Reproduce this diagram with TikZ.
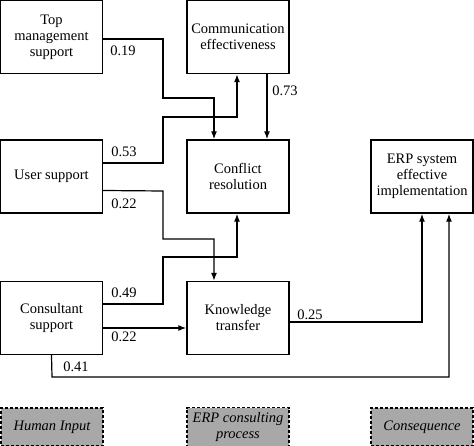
\documentclass[tikz,border=0pt]{standalone}
\usepackage{fontspec}
\setmainfont{Liberation Serif}
\usepackage{tikz}
\usetikzlibrary{arrows.meta}
\definecolor{legendgray}{RGB}{168,168,168}

\tikzset{
  box/.style={draw,line width=1.4pt,minimum width=102pt,minimum height=73pt,align=center,inner sep=2pt},
  legend/.style={draw,dash pattern=on 3pt off 2pt,line width=1.2pt,fill=legendgray,minimum width=102pt,minimum height=38pt,align=center,font=\itshape},
  flow/.style={line width=1.2pt,-{Latex[length=8pt,width=6pt]}}
}

\begin{document}
\begin{tikzpicture}[x=1pt,y=-1pt]
\rmfamily\fontsize{14.5}{16}\selectfont
\useasboundingbox (0,0) rectangle (474,446);
  % boxes
  \node[box] (top) at (51.5,37) {Top\\management\\support};
  \node[box] (comm) at (238,37) {Communication\\effectiveness};
  \node[box] (user) at (51.5,176.5) {User support};
  \node[box] (conf) at (238,176.5) {Conflict\\resolution};
  \node[box] (cons) at (51.5,318) {Consultant\\support};
  \node[box] (know) at (238,318) {Knowledge\\transfer};
  \node[box] (erp) at (422,176.5) {ERP system\\effective\\implementation};
  % paths
  \draw[flow] ([yshift=-2pt]top.east) -- (163,39) -- (163,98) -- (214,98) -- (conf.north -| 214,0);
  \draw[flow] ([yshift=13.5pt]user.east) -- (163,163) -- (163,117) -- (237,117) -- (comm.south -| 237,0);
  \draw[flow] (comm.south -| 267,0) -- (conf.north -| 267,0);
  \draw[flow] ([yshift=-14pt]user.east) -- (163,191) -- (163,239) -- (214,239) -- (know.north -| 214,0);
  \draw[flow] ([yshift=14pt]cons.east) -- (163,304) -- (163,257) -- (237,257) -- (conf.south -| 237,0);
  \draw[flow] ([yshift=-10pt]cons.east) -- (know.west |- 0,328);
  \draw[flow] ([yshift=-4pt]know.east) -- (422,322) -- (erp.south);
  \draw[flow] (cons.south) -- (52,377) -- (449,377) -- (erp.south -| 449,0);
  % weights
  \node (w19) at (123,51) {0.19};
  \node (w53) at (124,152) {0.53};
  \node (w73) at (285,91) {0.73};
  \node (w22a) at (124,204) {0.22};
  \node (w49) at (124,293) {0.49};
  \node (w22b) at (124,337) {0.22};
  \node (w25) at (310,315) {0.25};
  \node (w41) at (76,367) {0.41};
  % legend
  \node[legend] (input) at (52,427) {Human Input};
  \node[legend] (process) at (238,427) {ERP consulting\\process};
  \node[legend] (result) at (422,427) {Consequence};
\end{tikzpicture}
\end{document}
